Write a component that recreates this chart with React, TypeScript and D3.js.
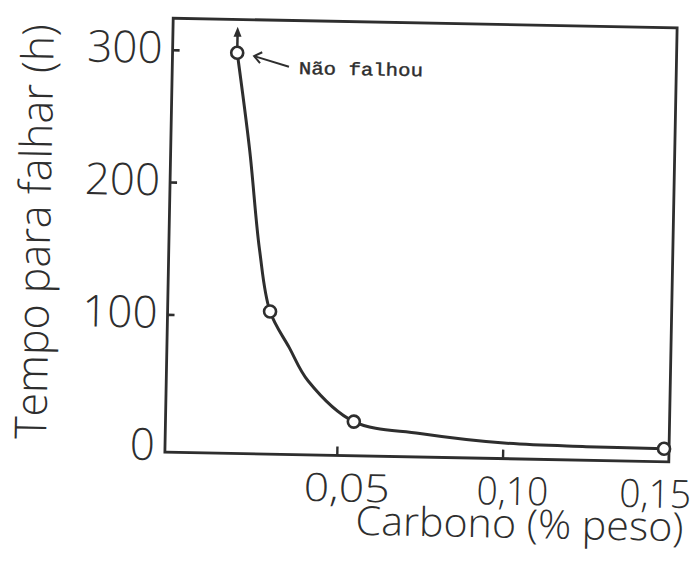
import React, { useEffect } from 'react';
import * as d3 from 'd3';

// Measured points (Carbono % peso, Tempo para falhar h)
const pointX = [0.0175, 0.0289, 0.0548, 0.1485];
const pointY = [299, 104, 22, 6];
// Hand-drawn curve
const curveX = [0.0175, 0.0218, 0.0254, 0.0289, 0.0349, 0.0408, 0.0548, 0.0748, 0.1002, 0.125, 0.1485];
const curveY = [299, 226, 150, 104, 77, 52, 22, 14, 8, 6.5, 6];
const yTicks = [0, 100, 200, 300];
const yTickLabels = ['0', '100', '200', '300'];
const xTicks = [0.05, 0.1, 0.15];
const xTickLabels = ['0,05', '0,10', '0,15'];
const xTitle = 'Carbono (% peso)';
const yTitle = 'Tempo para falhar (h)';
const note = 'Não falhou';

const W = 700;
const H = 563;
const left = 169;
const right = 673;
const top = 23;
const bottom = 457;
const ink = '#2e2e2e';
const font = "'Open Sans', 'DejaVu Sans', sans-serif";

export default function App() {
  useEffect(() => {
    document.body.style.margin = '0';
  }, []);
  const x = d3.scaleLinear().domain([-0.002, 0.15]).range([left, right]);
  const y = d3.scaleLinear().domain([0, 300]).range([452, 55]);
  const line = d3
    .line<number>()
    .x((_, i) => x(curveX[i]))
    .y((_, i) => y(curveY[i]))
    .curve(d3.curveCatmullRom.alpha(0.5));
  const path = line(curveX) || '';
  const p1x = x(pointX[0]);
  const p1y = y(pointY[0]);
  return (
    <svg width={W} height={H} style={{ position: 'absolute', left: 0, top: 0, background: '#fff' }}>
      <g transform="rotate(1.1, 420, 240)">
        <rect x={left} y={top} width={right - left} height={bottom - top} fill="none" stroke={ink} strokeWidth={2.8} />
        {yTicks.filter((t) => t > 0).map((t) => (
          <line key={'yt' + t} x1={left} x2={left + 7} y1={y(t)} y2={y(t)} stroke={ink} strokeWidth={2.6} />
        ))}
        {xTicks.filter((t) => t < 0.15).map((t) => (
          <line key={'xt' + t} x1={x(t)} x2={x(t)} y1={bottom} y2={bottom - 9} stroke={ink} strokeWidth={2.4} />
        ))}
        {yTicks.map((t, i) => (
          <text key={'yl' + t} x={left - 10} y={y(t) + 13} textAnchor="end" fontFamily={font} fontWeight={300} fontSize={44} fill={ink}>
            {yTickLabels[i]}
          </text>
        ))}
        {xTicks.map((t, i) => (
          <text key={'xl' + t} x={x(t) + (i === 2 ? -13 : 10)} y={503} textAnchor="middle" fontFamily={font} fontWeight={300} fontSize={39} fill={ink} textLength={i === 0 ? 86 : 72} lengthAdjust="spacingAndGlyphs">
            {xTickLabels[i]}
          </text>
        ))}
        <text x={525} y={536} textAnchor="middle" fontFamily={font} fontWeight={300} fontSize={40} fill={ink} textLength={328} lengthAdjust="spacingAndGlyphs">
          {xTitle}
        </text>
        <text transform="translate(50, 239) rotate(-90)" textAnchor="middle" fontFamily={font} fontWeight={300} fontSize={44} fill={ink} textLength={415} lengthAdjust="spacingAndGlyphs">
          {yTitle}
        </text>
        <path d={path} fill="none" stroke={ink} strokeWidth={3} strokeLinejoin="round" />
        {/* upward arrow on the non-failed point */}
        <line x1={p1x} x2={p1x} y1={p1y - 6} y2={p1y - 20} stroke={ink} strokeWidth={2.5} />
        <path d={`M${p1x},${p1y - 26} L${p1x - 4},${p1y - 16} L${p1x + 4},${p1y - 16} Z`} fill={ink} />
        {pointX.map((v, i) => (
          <circle key={'p' + i} cx={x(v)} cy={y(pointY[i])} r={6} fill="#fff" stroke={ink} strokeWidth={2.6} />
        ))}
        {/* annotation */}
        <line x1={p1x + 52} y1={p1y + 13} x2={p1x + 17} y2={p1y + 3} stroke={ink} strokeWidth={2} />
        <path d={`M${p1x + 25},${p1y - 1} L${p1x + 17},${p1y + 3} L${p1x + 23},${p1y + 10}`} fill="none" stroke={ink} strokeWidth={2} />
        <text x={p1x + 62} y={p1y + 20} fontFamily="'Liberation Mono', 'DejaVu Sans Mono', monospace" fontSize={18} fill={ink} stroke={ink} strokeWidth={0.4} textLength={124} lengthAdjust="spacingAndGlyphs">
          {note}
        </text>
      </g>
    </svg>
  );
}
